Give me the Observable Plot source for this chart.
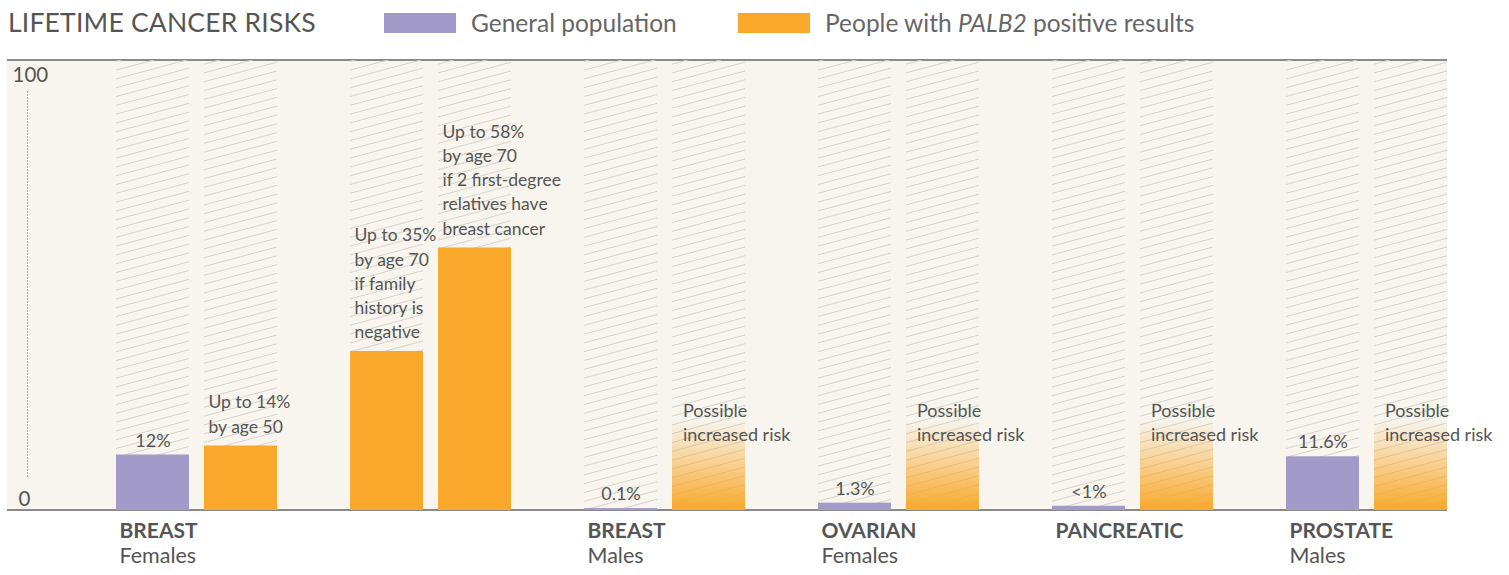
<!DOCTYPE html>
<html>
<head>
<meta charset="utf-8">
<script src="https://cdn.jsdelivr.net/npm/d3@7"></script>
<script src="https://cdn.jsdelivr.net/npm/@observablehq/plot@0.6"></script>
<style>
  body { margin: 0; background: #fff; font-family: Lato, "Open Sans", sans-serif; }
  #wrap { position: relative; width: 1509px; height: 575px; overflow: hidden; }
  #panel { position: absolute; left: 7px; top: 59px; width: 1440px; height: 448px;
           background: #f7f5ee; border-top: 2px solid #8a8a8a; border-bottom: 2px solid #8a8a8a; }
  #chart { position: absolute; left: 0; top: 0; }
  #title { position: absolute; left: 8px; top: 6px; font-size: 26.5px; color: #555; letter-spacing: 0.2px; }
  .sw { position: absolute; top: 13px; width: 72px; height: 20px; }
  .lt { position: absolute; top: 8px; font-size: 24.5px; color: #666; }
</style>
</head>
<body>
<div id="wrap">
  <div id="panel"></div>
  <div id="chart"></div>
  <div id="title">LIFETIME CANCER RISKS</div>
  <div class="sw" style="left:384px;background:#a29bc9"></div>
  <div class="lt" style="left:471px">General population</div>
  <div class="sw" style="left:738px;background:#f9a82c"></div>
  <div class="lt" style="left:825px">People with <i>PALB2</i> positive results</div>
</div>
<script>
// ---- data ----
const panels = ["p1", "p2", "p3", "p4", "p5", "p6"];
const barPanel = ["p1", "p1", "p2", "p2", "p3", "p3", "p4", "p4", "p5", "p5", "p6", "p6"];
const barSlot = ["a", "b", "a", "b", "a", "b", "a", "b", "a", "b", "a", "b"];
const barSeries = ["general", "palb2", "palb2", "palb2", "general", "possible",
                   "general", "possible", "general", "possible", "general", "possible"];
const barValues = [12, 14, 35, 58, 0.1, 20, 1.3, 20, 0.6, 20, 11.6, 20];
const barLabels = [
  "12%",
  "Up to 14%\nby age 50",
  "Up to 35%\nby age 70\nif family\nhistory is\nnegative",
  "Up to 58%\nby age 70\nif 2 first-degree\nrelatives have\nbreast cancer",
  "0.1%", "Possible\nincreased risk",
  "1.3%", "Possible\nincreased risk",
  "<1%", "Possible\nincreased risk",
  "11.6%", "Possible\nincreased risk"
];
const groupPanel = ["p1", "p3", "p4", "p5", "p6"];
const groupNames = ["BREAST", "BREAST", "OVARIAN", "PANCREATIC", "PROSTATE"];
const groupSubs = ["Females", "Males", "Females", "", "Males"];
const yTicks = [0, 100];

const PURPLE = "#a29bc9", ORANGE = "#f9a82c";

const bars = barValues.map((v, i) => ({
  panel: barPanel[i], slot: barSlot[i], series: barSeries[i], value: v, label: barLabels[i],
  hatchFrom: barSeries[i] === "possible" ? 0 : v
}));
const groups = groupNames.map((n, i) => ({panel: groupPanel[i], name: n, sub: groupSubs[i]}));
const ticks = yTicks.map(t => ({panel: "p1", t}));

const general = bars.filter(d => d.series === "general");
const palb2 = bars.filter(d => d.series === "palb2");
const possible = bars.filter(d => d.series === "possible");

const svg = Plot.plot({
  width: 1509,
  height: 575,
  marginTop: 60,
  marginBottom: 65,
  marginLeft: 116,
  marginRight: 62,
  style: {fontFamily: "Lato, 'Open Sans', sans-serif", color: "#555", background: "transparent", overflow: "visible"},
  fx: {domain: panels, paddingInner: 0.31197, paddingOuter: 0, align: 0, round: false, axis: null, label: null},
  x: {domain: ["a", "b"], paddingInner: 0.17045, paddingOuter: 0, align: 0, round: false, axis: null},
  y: {domain: [0, 100], axis: null},
  color: {domain: ["general", "palb2"], range: [PURPLE, ORANGE]},
  marks: [
    Plot.barY(bars, {fx: "panel", x: "slot", y1: "hatchFrom", y2: () => 100, fill: "url(#hatch)"}),
    Plot.barY(bars.filter(d => d.series !== "possible"), {fx: "panel", x: "slot", y: "value", fill: "series", insetTop: -1.5}),
    Plot.barY(possible, {fx: "panel", x: "slot", y: "value", fill: "url(#fade)"}),
    Plot.text(general, {fx: "panel", x: "slot", y: "value", text: "label", lineAnchor: "bottom", dy: -10, fontSize: 18}),
    Plot.text(palb2, {fx: "panel", x: "slot", y: "value", text: "label", lineAnchor: "bottom", textAnchor: "start",
                      dx: -32.5, dy: -15, fontSize: 17.5, lineHeight: 1.38}),
    Plot.text(possible, {fx: "panel", x: "slot", y: "value", text: "label", lineAnchor: "middle", textAnchor: "start",
                         dx: -26, dy: 1, fontSize: 18, lineHeight: 1.35}),
    Plot.text(groups, {fx: "panel", x: () => "a", y: () => 0, text: "name", textAnchor: "start",
                       dx: -33.5, dy: 21, fontSize: 21, fontWeight: "bold"}),
    Plot.text(groups, {fx: "panel", x: () => "a", y: () => 0, text: "sub", textAnchor: "start",
                       dx: -33.5, dy: 46, fontSize: 21.5}),
    Plot.text(ticks.filter(d => d.t === 100), {fx: "panel", y: "t", text: d => String(d.t), frameAnchor: "left",
                       textAnchor: "start", lineAnchor: "top", dx: -104, dy: 7, fontSize: 20.5}),
    Plot.text(ticks.filter(d => d.t === 0), {fx: "panel", y: "t", text: d => String(d.t), frameAnchor: "left",
                       textAnchor: "start", lineAnchor: "bottom", dx: -98, dy: -5, fontSize: 20.5}),
    Plot.ruleX(ticks.filter(d => d.t === 100), {fx: "panel", x: () => "a", y1: 93, y2: 7, dx: -125.5,
                       stroke: "#666", strokeDasharray: "1,2", strokeWidth: 1})
  ]
});

const defs = d3.select(svg).insert("defs", ":first-child");
const pat = defs.append("pattern").attr("id", "hatch").attr("patternUnits", "userSpaceOnUse")
  .attr("width", 12).attr("height", 8.5).attr("patternTransform", "rotate(-15)");
pat.append("line").attr("x1", 0).attr("x2", 12).attr("y1", 4.25).attr("y2", 4.25)
  .attr("stroke", "#d5d2ca").attr("stroke-width", 1);
const grad = defs.append("linearGradient").attr("id", "fade")
  .attr("x1", 0).attr("y1", 0).attr("x2", 0).attr("y2", 1);
grad.append("stop").attr("offset", 0).attr("stop-color", ORANGE).attr("stop-opacity", 0);
grad.append("stop").attr("offset", 1).attr("stop-color", ORANGE).attr("stop-opacity", 1);

document.getElementById("chart").appendChild(svg);
</script>
</body>
</html>
